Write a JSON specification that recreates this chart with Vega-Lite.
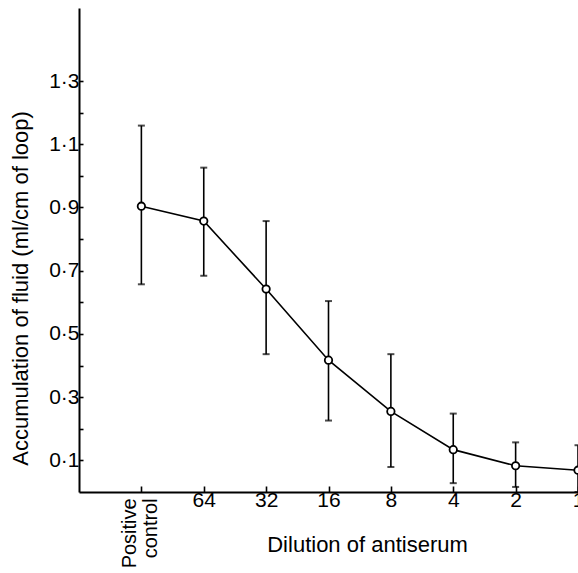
{
  "$schema": "https://vega.github.io/schema/vega-lite/v6.json",
  "autosize": {"type": "none"},
  "padding": {"left": 79, "top": 8, "right": 0, "bottom": 81},
  "width": 499,
  "height": 484,
  "config": {
    "view": {"stroke": null},
    "font": "Liberation Sans",
    "axis": {
      "labelFont": "Liberation Sans",
      "labelFontSize": 21,
      "labelColor": "black",
      "tickWidth": 1.6,
      "tickColor": "black",
      "domainColor": "black",
      "domainWidth": 2,
      "grid": false,
      "titleFont": "Liberation Sans",
      "titleFontSize": 22,
      "titleFontWeight": "normal",
      "titleColor": "black",
      "titleAlign": "center",
      "titleBaseline": "alphabetic"
    },
    "axisX": {"tickSize": -6, "labelPadding": 3, "titleX": 288, "titleY": 59},
    "axisY": {"tickSize": -4, "labelPadding": 4, "titleX": -52, "titleY": 280, "titleAngle": -90}
  },
  "data": {
    "values": [
      {"i": 1, "dilution": "Positive control", "mean": 0.904, "lo": 0.657, "hi": 1.159},
      {"i": 2, "dilution": "64", "mean": 0.857, "lo": 0.684, "hi": 1.026},
      {"i": 3, "dilution": "32", "mean": 0.642, "lo": 0.436, "hi": 0.857},
      {"i": 4, "dilution": "16", "mean": 0.417, "lo": 0.226, "hi": 0.604},
      {"i": 5, "dilution": "8", "mean": 0.255, "lo": 0.079, "hi": 0.436},
      {"i": 6, "dilution": "4", "mean": 0.134, "lo": 0.028, "hi": 0.248},
      {"i": 7, "dilution": "2", "mean": 0.083, "lo": 0.016, "hi": 0.157},
      {"i": 8, "dilution": "1", "mean": 0.069, "lo": 0.0, "hi": 0.148}
    ]
  },
  "encoding": {
    "x": {
      "field": "i",
      "type": "quantitative",
      "scale": {"domain": [0, 8], "nice": false, "zero": false},
      "axis": {
        "title": "Dilution of antiserum",
        "values": [1, 2, 3, 4, 5, 6, 7, 8],
        "labelExpr": "['', '', '64', '32', '16', '8', '4', '2', '1'][datum.value]",
        "labelOverlap": false,
        "labelFlush": false,
        "labelBound": false
      }
    }
  },
  "layer": [
    {
      "mark": {"type": "rule", "color": "black", "strokeWidth": 1.6},
      "encoding": {
        "y": {
          "field": "lo",
          "type": "quantitative",
          "scale": {"domain": [0, 1.531], "nice": false, "zero": false},
          "axis": {
            "title": "Accumulation of fluid (ml/cm of loop)",
            "values": [0.1, 0.2, 0.3, 0.4, 0.5, 0.6, 0.7, 0.8, 0.9, 1.0, 1.1, 1.2, 1.3],
            "labelExpr": "round(datum.value * 10) % 2 == 1 ? replace(format(datum.value, '.1f'), '.', '·') : ''"
          }
        },
        "y2": {"field": "hi"}
      }
    },
    {
      "mark": {"type": "tick", "orient": "horizontal", "color": "black", "size": 7, "thickness": 2},
      "encoding": {
        "y": {
          "field": "hi",
          "type": "quantitative",
          "scale": {"domain": [0, 1.531], "nice": false, "zero": false},
          "axis": {
            "title": "Accumulation of fluid (ml/cm of loop)",
            "values": [0.1, 0.2, 0.3, 0.4, 0.5, 0.6, 0.7, 0.8, 0.9, 1.0, 1.1, 1.2, 1.3],
            "labelExpr": "round(datum.value * 10) % 2 == 1 ? replace(format(datum.value, '.1f'), '.', '·') : ''"
          }
        }
      }
    },
    {
      "mark": {"type": "tick", "orient": "horizontal", "color": "black", "size": 7, "thickness": 2},
      "encoding": {
        "y": {
          "field": "lo",
          "type": "quantitative",
          "scale": {"domain": [0, 1.531], "nice": false, "zero": false},
          "axis": {
            "title": "Accumulation of fluid (ml/cm of loop)",
            "values": [0.1, 0.2, 0.3, 0.4, 0.5, 0.6, 0.7, 0.8, 0.9, 1.0, 1.1, 1.2, 1.3],
            "labelExpr": "round(datum.value * 10) % 2 == 1 ? replace(format(datum.value, '.1f'), '.', '·') : ''"
          }
        }
      }
    },
    {
      "mark": {"type": "line", "color": "black", "strokeWidth": 1.6},
      "encoding": {
        "y": {
          "field": "mean",
          "type": "quantitative",
          "scale": {"domain": [0, 1.531], "nice": false, "zero": false},
          "axis": {
            "title": "Accumulation of fluid (ml/cm of loop)",
            "values": [0.1, 0.2, 0.3, 0.4, 0.5, 0.6, 0.7, 0.8, 0.9, 1.0, 1.1, 1.2, 1.3],
            "labelExpr": "round(datum.value * 10) % 2 == 1 ? replace(format(datum.value, '.1f'), '.', '·') : ''"
          }
        }
      }
    },
    {
      "mark": {"type": "point", "shape": "circle", "filled": true, "fill": "white", "stroke": "black", "strokeWidth": 1.8, "size": 55, "opacity": 1},
      "encoding": {
        "y": {
          "field": "mean",
          "type": "quantitative",
          "scale": {"domain": [0, 1.531], "nice": false, "zero": false},
          "axis": {
            "title": "Accumulation of fluid (ml/cm of loop)",
            "values": [0.1, 0.2, 0.3, 0.4, 0.5, 0.6, 0.7, 0.8, 0.9, 1.0, 1.1, 1.2, 1.3],
            "labelExpr": "round(datum.value * 10) % 2 == 1 ? replace(format(datum.value, '.1f'), '.', '·') : ''"
          }
        }
      }
    },
    {
      "transform": [{"filter": "datum.i == 1"}],
      "mark": {"type": "text", "angle": 270, "align": "right", "baseline": "middle", "lineBreak": " ", "lineHeight": 21, "dy": -11, "font": "Liberation Sans", "fontSize": 20, "color": "black"},
      "encoding": {
        "y": {"datum": -0.02, "type": "quantitative", "scale": {"domain": [0, 1.531], "nice": false, "zero": false}},
        "text": {"field": "dilution"}
      }
    }
  ]
}
